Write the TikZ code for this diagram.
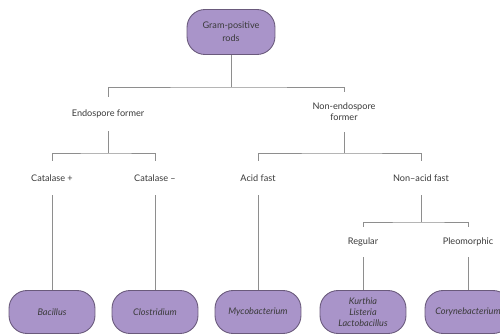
\documentclass[tikz,border=0pt]{standalone}
\usepackage{fontspec}
\setmainfont{Lato}
\setsansfont{Lato}
\usetikzlibrary{positioning,calc}
\definecolor{ink}{HTML}{3A3A3A}
\definecolor{linec}{HTML}{8E8E8E}
\definecolor{boxfill}{HTML}{A994C9}
\definecolor{boxline}{HTML}{6A5A7C}

\begin{document}
\begin{tikzpicture}[
  x=0.02cm, y=-0.02cm,
  font=\sffamily\fontsize{5.2}{6.3}\selectfont,
  every node/.style={text=ink, align=center},
  genus/.style={draw=boxline, fill=boxfill, line width=0.5pt, rounded corners=0.36cm,
    minimum width=1.72cm, minimum height=0.86cm, inner sep=1pt, font=\sffamily\itshape\fontsize{5.2}{6.3}\selectfont},
  crit/.style={inner sep=0pt, minimum height=0.68cm},
  branch/.style={draw=linec, line width=0.45pt}
]
\clip (0,0) rectangle (500,335);
\fill[white] (0,0) rectangle (500,335);

% Root
\node[genus, font=\sffamily\fontsize{5.2}{7.5}\selectfont, minimum width=1.76cm, minimum height=0.9cm] (root) at (231,32) {Gram-positive\\rods};

% First split
\node[crit] (endo) at (108,114) {Endospore former};
\node[crit, minimum height=0.8cm] (nonendo) at (344,112) {Non-endospore\\former};
\coordinate (j1) at (231,87);

% Second level
\node[crit] (catp) at (52,178) {Catalase +};
\node[crit] (catm) at (155,178) {Catalase --};
\node[crit] (acid) at (258,178) {Acid fast};
\node[crit] (nonacid) at (421,178) {Non--acid fast};
\coordinate (j2) at (108,153);
\coordinate (j3) at (344,153);

% Third level
\node[crit, minimum height=0.6cm] (regular) at (363,242) {Regular};
\node[crit, minimum height=0.6cm] (pleo) at (468,242) {Pleomorphic};
\coordinate (j4) at (421,222);

% Genera
\node[genus] (bacillus) at (52,312) {Bacillus};
\node[genus] (clostr) at (155,312) {Clostridium};
\node[genus] (myco) at (258,312) {Mycobacterium};
\node[genus] (kurthia) at (363,312) {Kurthia\\Listeria\\Lactobacillus};
\node[genus] (coryne) at (468,312) {Corynebacterium};

% Branches
\draw[branch] (root) -- (j1);
\draw[branch] (endo.north) |- (j1) -| (nonendo.north);
\draw[branch] (endo.south) -- (j2);
\draw[branch] (catp.north) |- (j2) -| (catm.north);
\draw[branch] (nonendo.south) -- (j3);
\draw[branch] (acid.north) |- (j3) -| (nonacid.north);
\draw[branch] (nonacid.south) -- (j4);
\draw[branch] (regular.north) |- (j4) -| (pleo.north);
\draw[branch] (catp.south) -- (bacillus.north);
\draw[branch] (catm.south) -- (clostr.north);
\draw[branch] (acid.south) -- (myco.north);
\draw[branch] (regular.south) -- (kurthia.north);
\draw[branch] (pleo.south) -- (coryne.north);

\end{tikzpicture}
\end{document}
